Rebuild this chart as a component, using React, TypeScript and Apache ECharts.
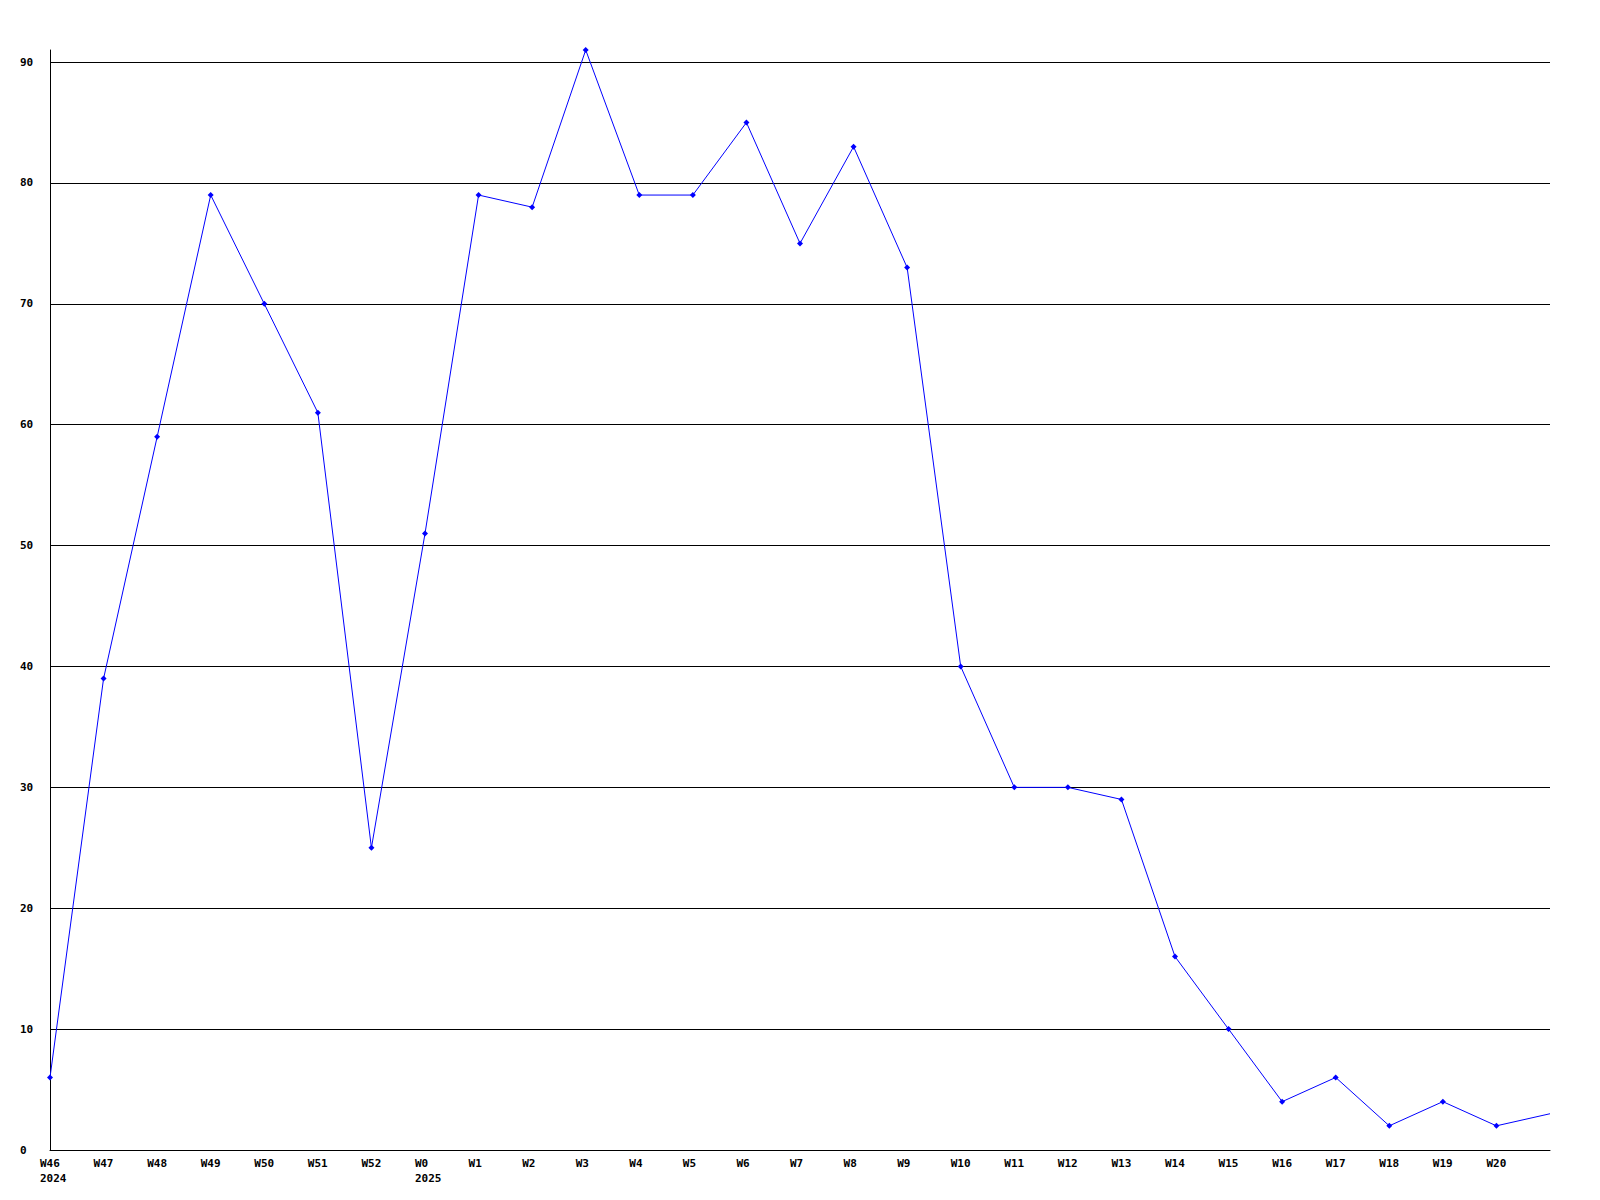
import React, { useEffect, useRef } from "react";
import * as echarts from "echarts";

const weeks = ["W46","W47","W48","W49","W50","W51","W52","W0","W1","W2","W3","W4","W5","W6","W7","W8","W9","W10","W11","W12","W13","W14","W15","W16","W17","W18","W19","W20","W21"];
const years: Record<string, string> = { W46: "2024", W0: "2025" };
const values = [6,39,59,79,70,61,25,51,79,78,91,79,79,85,75,83,73,40,30,30,29,16,10,4,6,2,4,2,3];
const yTicks = [0,10,20,30,40,50,60,70,80,90];

export default function App() {
  const ref = useRef<HTMLDivElement>(null);
  useEffect(() => {
    const chart = echarts.init(ref.current!, null, { renderer: "svg" });
    const font = { fontFamily: "DejaVu Sans Mono", fontWeight: "bold" as const, fontSize: 11, color: "#000" };
    const splitColors = yTicks.map(() => "#000");
    splitColors.push("transparent");
    const seriesData = values.map((v, i) =>
      i === values.length - 1 ? { value: v, symbol: "none" } : v
    );
    chart.setOption({
      animation: false,
      backgroundColor: "#fff",
      grid: { left: 50, right: 50, top: 50, bottom: 50, containLabel: false },
      xAxis: {
        type: "category",
        data: weeks,
        boundaryGap: false,
        axisLine: { lineStyle: { color: "#000", width: 1 } },
        axisTick: { show: false },
        splitLine: { show: false },
        axisLabel: {
          ...font,
          interval: 0,
          margin: 6,
          formatter: (v: string, i: number) => {
            if (i === weeks.length - 1) return "";
            return years[v] ? `{a|${v}}\n{a|${years[v]}}` : `{a|${v}}`;
          },
          rich: { a: { ...font, width: 20, align: "left", lineHeight: 15 } },
        },
      },
      yAxis: {
        type: "value",
        min: 0,
        max: 91,
        interval: 10,
        axisLine: { show: true, lineStyle: { color: "#000", width: 1 } },
        axisTick: { show: false },
        splitLine: { show: true, lineStyle: { color: splitColors, width: 1 } },
        axisLabel: {
          ...font,
          align: "left",
          margin: 30,
          showMaxLabel: false,
          formatter: (v: number) => (yTicks.includes(v) ? String(v) : ""),
        },
      },
      series: [
        {
          type: "line",
          data: seriesData,
          symbol: "diamond",
          symbolSize: 6,
          lineStyle: { color: "#0000ff", width: 1 },
          itemStyle: { color: "#0000ff" },
        },
      ],
    });
    return () => chart.dispose();
  }, []);
  return <div ref={ref} style={{ position: "fixed", left: 0, top: 0, width: 1600, height: 1200 }} />;
}
